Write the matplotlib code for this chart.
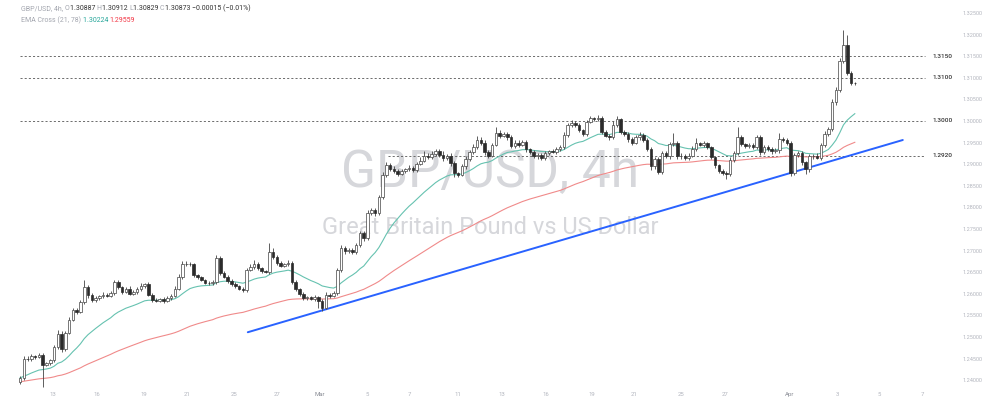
import numpy as np
import matplotlib.pyplot as plt

plt.rcParams['font.family'] = ['Roboto', 'DejaVu Sans']

# GBP/USD 4h closes (one value per candle)
closes = [
    1.2405, 1.2450, 1.2448, 1.2456, 1.2454, 1.2458, 1.2436, 1.2440, 1.2446, 1.2476,
    1.2508, 1.2472, 1.2510, 1.2540, 1.2562, 1.2558, 1.2581, 1.2616, 1.2597, 1.2586,
    1.2590, 1.2594, 1.2598, 1.2596, 1.2602, 1.2627, 1.2615, 1.2605, 1.2612, 1.2600,
    1.2604, 1.2610, 1.2618, 1.2622, 1.2598, 1.2586, 1.2584, 1.2587, 1.2583, 1.2590,
    1.2595, 1.2612, 1.2640, 1.2668, 1.2670, 1.2668, 1.2643, 1.2638, 1.2632, 1.2626,
    1.2624, 1.2628, 1.2683, 1.2648, 1.2640, 1.2630, 1.2622, 1.2618, 1.2612, 1.2608,
    1.2655, 1.2662, 1.2670, 1.2660, 1.2652, 1.2650, 1.2697, 1.2685, 1.2672, 1.2665,
    1.2668, 1.2672, 1.2628, 1.2610, 1.2600, 1.2590, 1.2592, 1.2588, 1.2592, 1.2584,
    1.2568, 1.2598, 1.2595, 1.2602, 1.2655, 1.2706, 1.2698, 1.2702, 1.2696, 1.2712,
    1.2741, 1.2728, 1.2787, 1.2794, 1.2786, 1.2824, 1.2875, 1.2898, 1.2890, 1.2885,
    1.2878, 1.2884, 1.2888, 1.2892, 1.2886, 1.2900, 1.2908, 1.2920, 1.2917, 1.2924,
    1.2930, 1.2922, 1.2914, 1.2920, 1.2903, 1.2880, 1.2876, 1.2895, 1.2912, 1.2928,
    1.2940, 1.2956, 1.2950, 1.2928, 1.2920, 1.2944, 1.2972, 1.2966, 1.2970, 1.2963,
    1.2942, 1.2950, 1.2945, 1.2952, 1.2935, 1.2928, 1.2918, 1.2922, 1.2914, 1.2925,
    1.2930, 1.2928, 1.2935, 1.2940, 1.2968, 1.2990, 1.2996, 1.2990, 1.2978, 1.2970,
    1.2998, 1.3006, 1.3004, 1.3008, 1.2975, 1.2966, 1.2962, 1.2990, 1.3004, 1.2975,
    1.2970, 1.2958, 1.2950, 1.2962, 1.2968, 1.2955, 1.2936, 1.2895, 1.2912, 1.2882,
    1.2926, 1.2918, 1.2946, 1.2950, 1.2918, 1.2920, 1.2914, 1.2920, 1.2935, 1.2948,
    1.2945, 1.2948, 1.2940, 1.2916, 1.2898, 1.2885, 1.2880, 1.2878, 1.2910, 1.2926,
    1.2962, 1.2946, 1.2942, 1.2945, 1.2940, 1.2962, 1.2928, 1.2940, 1.2936, 1.2930,
    1.2932, 1.2958, 1.2955, 1.2950, 1.2880, 1.2922, 1.2926, 1.2904, 1.2888, 1.2918,
    1.2920, 1.2915, 1.2945, 1.2970, 1.2982, 1.3044, 1.3072, 1.3140, 1.3176, 1.3112,
    1.30887, 1.30873,
]
first_open = 1.2395
last_open = 1.30887

# wick lengths in pips above / below the body
up_wick = [
    4, 6, 5, 4, 3, 4, 6, 3, 4, 5,
    8, 5, 4, 6, 5, 4, 5, 16, 5, 4,
    4, 3, 5, 4, 4, 6, 5, 4, 3, 5,
    4, 5, 6, 4, 5, 3, 4, 3, 5, 4,
    4, 5, 6, 8, 5, 4, 4, 3, 4, 3,
    3, 4, 7, 5, 4, 3, 4, 5, 3, 4,
    5, 6, 8, 4, 3, 4, 21, 8, 5, 4,
    4, 6, 3, 4, 3, 4, 4, 3, 5, 3,
    4, 5, 4, 5, 4, 6, 5, 4, 5, 6,
    5, 4, 6, 5, 4, 5, 6, 8, 5, 6,
    5, 6, 4, 5, 4, 6, 8, 10, 5, 6,
    6, 5, 8, 4, 5, 4, 3, 5, 6, 5,
    6, 10, 8, 5, 4, 5, 14, 6, 5, 4,
    4, 5, 6, 5, 4, 3, 4, 5, 4, 5,
    4, 5, 4, 5, 6, 5, 6, 4, 5, 4,
    5, 6, 4, 5, 3, 4, 5, 10, 8, 4,
    4, 5, 4, 5, 6, 4, 5, 4, 5, 4,
    5, 4, 6, 22, 4, 5, 4, 5, 6, 12,
    4, 5, 4, 3, 4, 3, 4, 5, 6, 5,
    23, 5, 4, 5, 4, 6, 5, 4, 5, 4,
    5, 14, 4, 5, 4, 5, 4, 5, 4, 6,
    4, 5, 5, 6, 5, 8, 6, 6, 35, 23,
    4, 2.5,
]
down_wick = [
    4, 5, 4, 3, 4, 3, 52, 4, 5, 3,
    3, 6, 4, 3, 4, 5, 3, 4, 6, 5,
    4, 5, 3, 4, 3, 4, 4, 5, 4, 3,
    3, 4, 3, 5, 4, 5, 3, 4, 4, 3,
    4, 3, 4, 5, 4, 3, 5, 4, 3, 4,
    4, 3, 5, 4, 3, 4, 5, 4, 3, 5,
    4, 3, 5, 4, 5, 3, 5, 4, 5, 4,
    3, 4, 5, 4, 6, 5, 4, 3, 4, 17,
    8, 4, 5, 3, 4, 4, 5, 4, 3, 4,
    4, 5, 3, 4, 5, 3, 4, 4, 6, 5,
    6, 4, 5, 4, 5, 4, 3, 4, 5, 4,
    4, 5, 6, 5, 8, 10, 6, 4, 5, 4,
    5, 4, 5, 6, 5, 4, 3, 5, 4, 6,
    5, 4, 5, 4, 6, 5, 4, 6, 5, 4,
    4, 3, 5, 4, 4, 5, 4, 5, 4, 5,
    4, 3, 4, 3, 5, 4, 6, 4, 5, 4,
    5, 6, 5, 4, 5, 4, 6, 8, 6, 5,
    5, 4, 5, 4, 6, 5, 4, 5, 4, 5,
    4, 5, 4, 5, 6, 5, 6, 12, 5, 4,
    4, 5, 4, 5, 4, 5, 6, 4, 5, 6,
    4, 5, 4, 5, 8, 6, 5, 6, 11, 5,
    5, 4, 6, 5, 4, 5, 6, 5, 6, 6,
    5, 4.4,
]

ema_fast_start = 1.2405
ema_slow_start = 1.2396

levels = [1.3150, 1.3100, 1.3000, 1.2920]
level_labels = ['1.3150', '1.3100', '1.3000', '1.2920']

trend_bars = [60.3, 233.7]
trend_prices = [1.2511, 1.2956]

date_ticks = [8.7, 20.4, 32.8, 44.2, 56.6, 68.0, 79.4, 91.8, 103.2, 115.9,
              127.6, 139.2, 151.4, 162.5, 175.0, 186.6, 203.8, 216.3, 227.6, 239.0]
date_labels = ['13', '16', '19', '21', '25', '27', 'Mar', '5', '7', '11',
               '13', '16', '19', '21', '25', '27', 'Apr', '3', '5', '7']

price_ticks = np.arange(1.24, 1.3251, 0.005)


def ema(values, span, seed):
    k = 2 / (span + 1)
    out = []
    e = seed
    for v in values:
        e = e + k * (v - e)
        out.append(e)
    return np.array(out)


closes = np.array(closes)
opens = np.concatenate([[first_open], closes[:-1]])
opens[-1] = last_open
tops = np.maximum(opens, closes)
bots = np.minimum(opens, closes)
highs = tops + np.array(up_wick) * 1e-4
lows = bots - np.array(down_wick) * 1e-4
idx = np.arange(len(closes))

fig = plt.figure(figsize=(10, 4.12), dpi=100)
ax = fig.add_axes([0.0, 24 / 412, 0.95, 388 / 412])
ax.set_xlim(-5.3, 246.2)
ax.set_ylim(1.23819, 1.32801)
for s in ax.spines.values():
    s.set_visible(False)

# watermark
ax.text(0.516, 0.557, 'GBP/USD, 4h', transform=ax.transAxes, ha='center', va='center',
        fontsize=37, color='#d6d7db', zorder=0)
ax.text(0.516, 0.414, 'Great Britain Pound vs US Dollar', transform=ax.transAxes,
        ha='center', va='center', fontsize=17, color='#d6d7db', zorder=0)

# horizontal levels
yt = ax.get_yaxis_transform()
for lv, lab in zip(levels, level_labels):
    start = 0.408 if lv == 1.2920 else 0.021
    ax.axhline(lv, xmin=start, xmax=0.974, color='#555555', lw=0.6, ls=(0, (2.5, 2.5)), zorder=1)
    ax.text(0.982, lv, lab, transform=yt, ha='left', va='center', fontsize=4.6,
            color='#333333', fontweight='medium')

# trend line
ax.plot(trend_bars, trend_prices, color='#2962ff', lw=1.4, zorder=2, solid_capstyle='round')

# EMAs
ax.plot(idx, ema(closes, 21, ema_fast_start), color='#66c2b0', lw=0.8, zorder=3)
ax.plot(idx, ema(closes, 78, ema_slow_start), color='#f08a8a', lw=0.8, zorder=3)

# candles
ax.vlines(idx, lows, highs, color='#444444', lw=0.6, zorder=4)
up = closes >= opens
heights = np.maximum(tops - bots, 0.00004)
ax.bar(idx[up], heights[up], bottom=bots[up], width=0.68, color='white',
       edgecolor='#444444', linewidth=0.5, zorder=5)
ax.bar(idx[~up], heights[~up], bottom=bots[~up], width=0.68, color='#2b2b2b',
       edgecolor='#2b2b2b', linewidth=0.5, zorder=5)

# axes ticks
ax.yaxis.tick_right()
ax.set_yticks(price_ticks)
ax.set_yticklabels(['%.5f' % p for p in price_ticks])
ax.tick_params(axis='y', length=0, pad=9, labelsize=4.0, labelcolor='#b2b5be')
ax.set_xticks(date_ticks)
ax.set_xticklabels(date_labels)
ax.tick_params(axis='x', length=0, pad=3, labelsize=4.3, labelcolor='#b2b5be')
for t in ax.get_xticklabels():
    if t.get_text() in ('Mar', 'Apr'):
        t.set_color('#8a8d96')


def header(x, y, parts, size=5.0):
    prev = fig.text(x, y, parts[0][0], color=parts[0][1], fontsize=size, va='center', ha='left')
    for txt, col in parts[1:]:
        prev = ax.annotate(txt, xy=(1, 0), xycoords=prev, ha='left', va='bottom',
                           color=col, fontsize=size, annotation_clip=False)


gray = '#a3a6af'
dark = '#333333'
header(0.021, 1 - 9 / 412, [
    ('GBP/USD, 4h, ', gray), ('O', gray), ('1.30887 ', dark), ('H', gray), ('1.30912 ', dark),
    ('L', gray), ('1.30829 ', dark), ('C', gray), ('1.30873 ', dark), ('\u22120.00015 (\u22120.01%)', dark)])
header(0.021, 1 - 20 / 412, [
    ('EMA Cross (21, 78) ', gray), ('1.30224 ', '#26a69a'), ('1.29559', '#f23645')])

fig.savefig('out.png', dpi=100)
